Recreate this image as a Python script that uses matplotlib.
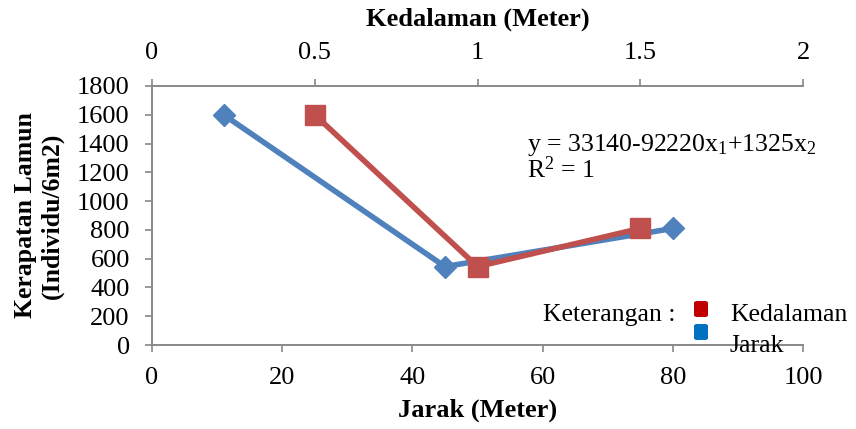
import matplotlib.pyplot as plt
from matplotlib.patches import FancyBboxPatch

# data
jarak = [11, 45, 80]
kedalaman = [0.5, 1.0, 1.5]
kerapatan = [1600, 545, 810]

blue = '#4F81BD'
red = '#C0504D'

plt.rcParams['font.family'] = ['Liberation Serif', 'DejaVu Serif']
plt.rcParams['font.size'] = 18.5
plt.rcParams['mathtext.default'] = 'regular'

W, H = 856, 429
fig = plt.figure(figsize=(W / 100, H / 100), dpi=100)
ax = fig.add_axes([152 / W, 1 - 345 / H, 651 / W, 259 / H])


def ay(py):
    # pixel row -> axes fraction
    return (345 - py) / 259


def axx(px):
    return (px - 152) / 651


ax.plot(jarak, kerapatan, color=blue, lw=4, marker='D', ms=11,
        markerfacecolor=blue, markeredgecolor=blue, zorder=3)
ax.set_xlim(0, 100)
ax.set_ylim(0, 1800)
ax.set_xticks(range(0, 101, 20))
ax.set_yticks(range(0, 1801, 200))
ax.set_xlabel('Jarak (Meter)', fontweight='bold', fontsize=19, va='center')
ax.xaxis.set_label_coords(0.5, ay(410))
ax.set_ylabel('Kerapatan Lamun\n(Individu/6m2)', fontweight='bold',
              fontsize=18.5, linespacing=1.15, va='center')
ax.yaxis.set_label_coords(axx(39), 0.5)

ax2 = ax.twiny()
ax2.plot(kedalaman, kerapatan, color=red, lw=4, marker='s', ms=14,
         markerfacecolor=red, markeredgecolor=red, zorder=4)
ax2.set_xlim(0, 2)
ax2.set_xticks([0, 0.5, 1, 1.5, 2])
ax2.set_xticklabels(['0', '0.5', '1', '1.5', '2'])
ax2.set_xlabel('Kedalaman (Meter)', fontweight='bold', fontsize=19, va='center')
ax2.xaxis.set_label_coords(0.5, ay(19))

for a in (ax, ax2):
    for s in a.spines.values():
        s.set_color('#888888')
        s.set_linewidth(1.2)
    a.tick_params(color='#888888', length=5, width=1.2, labelsize=19, pad=11)
ax.spines['right'].set_visible(False)
ax2.spines['right'].set_visible(False)

ax.text(axx(527), ay(151), 'y = 33140-92220x$_1$+1325x$_2$',
        transform=ax.transAxes, fontsize=18.5, va='baseline', ha='left')
ax.text(axx(527), ay(178), 'R$^2$ = 1',
        transform=ax.transAxes, fontsize=18.5, va='baseline', ha='left')

# legend
fig.text(543 / W, 1 - 321 / H, 'Keterangan :', fontsize=18.5, va='baseline')
fig.text(730 / W, 1 - 321 / H, 'Kedalaman', fontsize=18.5, va='baseline')
fig.text(730 / W, 1 - 352 / H, 'Jarak', fontsize=18.5, va='baseline')
for yc, c in ((309, '#C00000'), (332, '#0070C0')):
    fig.patches.append(FancyBboxPatch(
        (694 / W, 1 - (yc + 8) / H), 14 / W, 16 / H,
        boxstyle='round,pad=0,rounding_size=0.004', transform=fig.transFigure,
        facecolor=c, edgecolor='none', figure=fig))

fig.savefig('out.png', dpi=100)
